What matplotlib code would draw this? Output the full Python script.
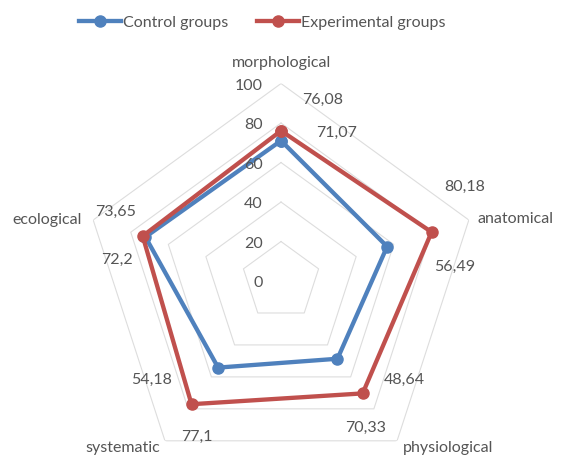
import numpy as np
import matplotlib
matplotlib.use("Agg")
import matplotlib.pyplot as plt
from matplotlib.lines import Line2D

plt.rcParams['font.family'] = ['Lato', 'DejaVu Sans']

# data
categories = ['morphological', 'anatomical', 'physiological', 'systematic', 'ecological']
control = [71.07, 56.49, 48.64, 54.18, 72.2]
experimental = [76.08, 80.18, 70.33, 77.1, 73.65]
control_lbl = ['71,07', '56,49', '48,64', '54,18', '72,2']
experimental_lbl = ['76,08', '80,18', '70,33', '77,1', '73,65']
rings = [20, 40, 60, 80, 100]
tick_vals = [0, 20, 40, 60, 80, 100]

blue = '#4F81BD'
red = '#C0504D'
txt = '#555555'
fs = 11.5

fig = plt.figure(figsize=(5.66, 4.58), dpi=100)
ax = fig.add_axes([0.1475, -0.0448, 0.698, 0.8624], projection='polar')
ax.set_theta_offset(np.pi / 2)
ax.set_theta_direction(-1)
ax.set_ylim(0, 100)
ax.grid(False)
ax.set_xticks([])
ax.set_yticks([])
ax.spines['polar'].set_visible(False)
ax.patch.set_visible(False)

n = len(categories)
ang = np.linspace(0, 2 * np.pi, n, endpoint=False)
ang_c = np.append(ang, ang[0])

# pentagon grid
for r in rings:
    ax.plot(ang_c, [r] * (n + 1), color='#DDDDDD', lw=0.8, zorder=1)

ax.plot(ang_c, control + control[:1], color=blue, lw=3.1, marker='o', ms=8,
        zorder=3, clip_on=False)
ax.plot(ang_c, experimental + experimental[:1], color=red, lw=3.1, marker='o', ms=8,
        zorder=4, clip_on=False)

# axis tick labels along the top spoke
for v in tick_vals:
    ax.annotate(str(v), xy=(0, v), xytext=(-18, -2), textcoords='offset pixels',
                ha='right', va='center', fontsize=fs, color=txt)

# category labels
cat_off = [(0, 21), (9, 1), (6, -7), (-5, -7), (-11, 0)]
cat_ha = ['center', 'left', 'left', 'right', 'right']
for i, c in enumerate(categories):
    ax.annotate(c, xy=(ang[i], 100), xytext=cat_off[i], textcoords='offset pixels',
                ha=cat_ha[i], va='center', fontsize=fs, color=txt,
                annotation_clip=False)

# data labels
exp_off = [(42, 31), (33, 45), (3, -34), (5, -33), (-27, 24)]
ctl_off = [(56, 8), (68, -20), (67, -21), (-67, -12), (-28, -23)]
for i in range(n):
    ax.annotate(experimental_lbl[i], xy=(ang[i], experimental[i]), xytext=exp_off[i],
                textcoords='offset pixels', ha='center', va='center',
                fontsize=fs, color=txt, annotation_clip=False)
    ax.annotate(control_lbl[i], xy=(ang[i], control[i]), xytext=ctl_off[i],
                textcoords='offset pixels', ha='center', va='center',
                fontsize=fs, color=txt, annotation_clip=False)

handles = [Line2D([], [], color=blue, lw=3.1, marker='o', ms=8),
           Line2D([], [], color=red, lw=3.1, marker='o', ms=8)]
leg = fig.legend(handles, ['Control groups', 'Experimental groups'], loc='center',
                 bbox_to_anchor=(0.464, 0.95), ncol=2, frameon=False,
                 fontsize=fs, handlelength=2.6, handletextpad=0.15,
                 columnspacing=1.8)
for t in leg.get_texts():
    t.set_color(txt)

fig.savefig('out.png', dpi=100)
